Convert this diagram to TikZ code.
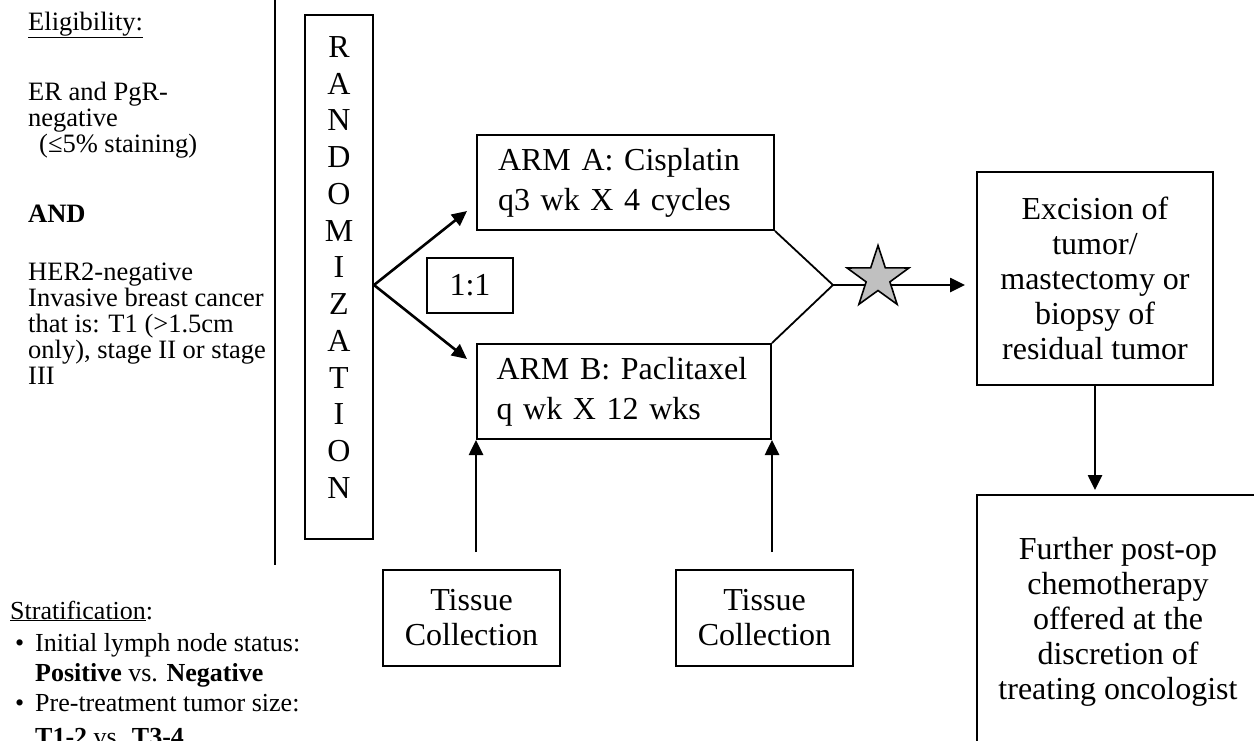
\documentclass[tikz,border=0pt]{standalone}
\usepackage{fontspec}
\setmainfont{Liberation Serif}
\usetikzlibrary{shapes.geometric, arrows.meta, positioning}

\definecolor{starfill}{RGB}{192,192,192}
\newcommand{\lefttxt}{\fontsize{26.5}{26}\selectfont}
\newcommand{\bigtxt}{\fontsize{32}{35}\selectfont}

\tikzset{
  box/.style={draw, line width=2pt, inner sep=0pt, font=\bigtxt, align=center},
  armbox/.style={box, minimum height=95, text width=255, align=left,
    font=\fontsize{32}{40}\selectfont},
  link/.style={draw, line width=1.8pt},
  arrow/.style={draw, line width=2.6pt, -{Triangle[length=15pt,width=14pt]}},
}

\begin{document}
\begin{tikzpicture}[x=1pt, y=-1pt]
        \useasboundingbox (0,0) rectangle (1254,740);
        \clip (0,0) rectangle (1254,740);
        % left column
        \begin{scope}[every node/.style={anchor=base west, inner sep=0pt, font=\lefttxt}]
          \node (eligtitle) at (28,30) {\underline{Eligibility:}};
          \node (elig1) at (28,100) {ER and PgR-};
          \node (elig2) at (28,126) {negative};
          \node (elig3) at (28,152) {\hspace*{11pt}(≤5\% staining)};
          \node (eligand) at (28,222) {\textbf{AND}};
          \node (elig4) at (28,280) {HER2-negative};
          \node (elig5) at (28,306) {Invasive breast cancer};
          \node (elig6) at (28,332) {that is: T1 (>1.5cm};
          \node (elig7) at (28,358) {only), stage II or stage};
          \node (elig8) at (28,384) {III};
        \end{scope}
        \begin{scope}[every node/.style={anchor=base west, inner sep=0pt, font=\fontsize{26}{30}\selectfont}]
          \node (strattitle) at (10,619) {\underline{Stratification}:};
          \node (strat1) at (15,651) {\makebox[20pt][l]{•}Initial lymph node status:};
          \node (strat2) at (35,681) {\textbf{Positive} vs. \textbf{Negative}};
          \node (strat3) at (15,711) {\makebox[20pt][l]{•}Pre-treatment tumor size:};
          \node (strat4) at (35,745) {\textbf{T1-2} vs. \textbf{T3-4}};
        \end{scope}
        \coordinate (divtop) at (275,0);
        \coordinate (divbot) at (275,565);
        \draw[line width=2pt] (divtop) -- (divbot);
        % boxes
        \node[box, minimum width=68, minimum height=524] (rand) at (339,277) {};
        \node[inner sep=0pt, font=\fontsize{32}{36.75}\selectfont, align=center] (randtxt)
          at ([yshift=9.5pt]rand.center) {R\\A\\N\\D\\O\\M\\I\\Z\\A\\T\\I\\O\\N};
        \node[armbox, minimum width=297] (armA) at (625.5,182.5) {ARM A: Cisplatin\\q3 wk X 4 cycles};
        \node[armbox, minimum width=294] (armB) at (624,391.5) {ARM B: Paclitaxel\\q wk X 12 wks};
        \node[box, minimum width=86, minimum height=55] (ratio) at (470,285.5) {1:1};
        \node[box, minimum width=236, minimum height=213] (excision) at (1095,278.5)
          {Excision of\\tumor/\\mastectomy or\\biopsy of\\residual tumor};
        \node[box, minimum width=282, minimum height=254] (further) at (1118,622)
          {Further post-op\\chemotherapy\\offered at the\\discretion of\\treating oncologist};
        \node[box, minimum width=177, minimum height=96] (tissueA) at (471.5,618) {Tissue\\Collection};
        \node[box, minimum width=177, minimum height=96] (tissueB) at (764.5,618) {Tissue\\Collection};
        % connectors
        \coordinate (join) at (833,285);
        \coordinate (split) at (rand.east |- join);
        \draw[arrow] (split) -- ([xshift=-9pt,yshift=20pt]armA.south west);
        \draw[arrow] (split) -- ([xshift=-9pt,yshift=-16pt]armB.north west);
        \draw[link] (armA.south east) -- (join) -- (armB.north east);
        \draw[arrow, shorten >=11pt] (join) -- (join -| excision.west);
        \node[star, star points=5, star point ratio=2.6, minimum size=65, inner sep=0pt,
          draw, line width=1.6pt, fill=starfill] (mark) at (878,278) {};
        \draw[arrow, shorten >=4pt] (excision.south) -- (excision.south |- further.north);
        \draw[arrow, shorten <=17pt] (armB.south west |- tissueA.north) -- (armB.south west);
        \draw[arrow, shorten <=17pt] (armB.south east |- tissueB.north) -- (armB.south east);
\end{tikzpicture}
\end{document}
